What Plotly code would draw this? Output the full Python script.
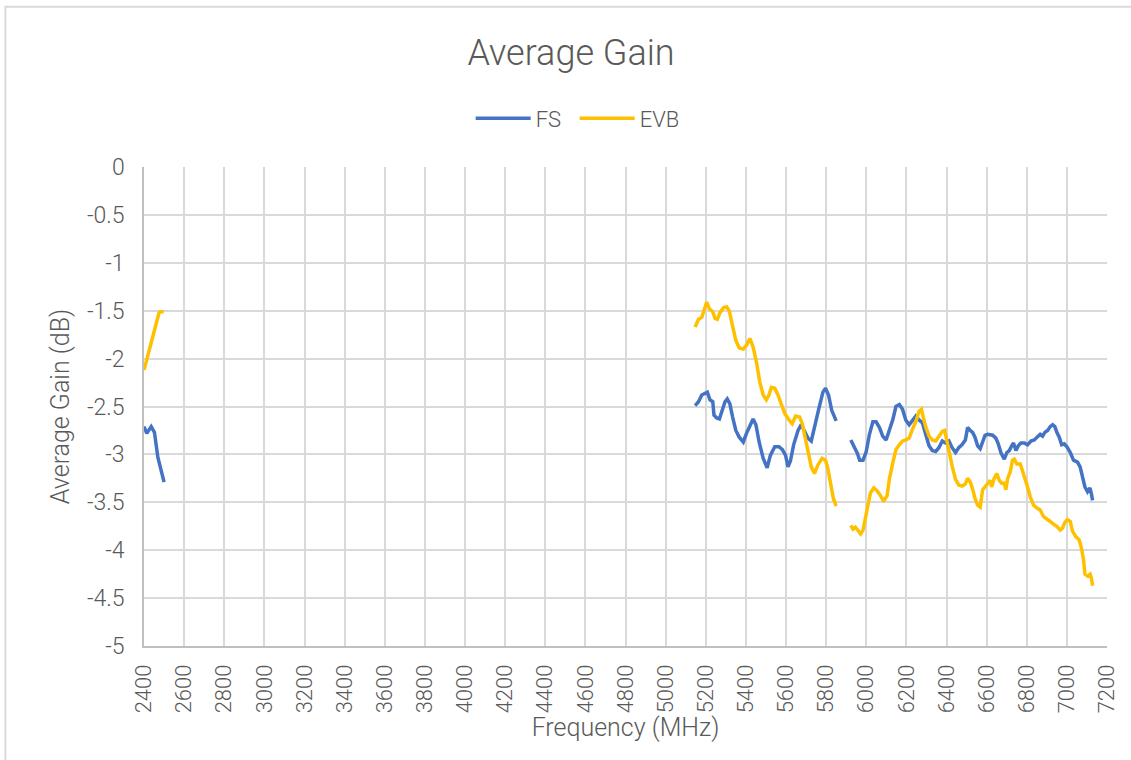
import plotly.graph_objects as go

# ---- Data ----
fs_f1 = [2400, 2414, 2436, 2452, 2469, 2494, 2500]
fs_g1 = [-2.71, -2.78, -2.71, -2.77, -3.03, -3.27, -3.29]
evb_f1 = [2400, 2419, 2444, 2474, 2480, 2498]
evb_g1 = [-2.12, -1.98, -1.77, -1.53, -1.51, -1.51]

fs_f2 = [5147, 5164, 5180, 5197, 5208, 5221, 5235, 5241, 5255, 5268, 5284, 5296, 5307, 5320,
         5334, 5350, 5367, 5387, 5403, 5420, 5436, 5450, 5466, 5486, 5506, 5522, 5544, 5565,
         5582, 5598, 5610, 5622, 5638, 5660, 5676, 5693, 5709, 5726, 5742, 5764, 5784, 5797,
         5812, 5828, 5850]
fs_g2 = [-2.49, -2.45, -2.38, -2.36, -2.35, -2.43, -2.45, -2.59, -2.62, -2.63, -2.53, -2.45,
         -2.42, -2.47, -2.61, -2.75, -2.82, -2.87, -2.78, -2.69, -2.63, -2.69, -2.87, -3.04,
         -3.14, -3.01, -2.92, -2.92, -2.95, -3.01, -3.13, -3.07, -2.90, -2.75, -2.69, -2.76,
         -2.83, -2.86, -2.73, -2.52, -2.35, -2.31, -2.38, -2.54, -2.65]
evb_f2 = [5147, 5164, 5180, 5192, 5205, 5218, 5235, 5246, 5258, 5271, 5288, 5304, 5317, 5334,
          5350, 5367, 5387, 5403, 5420, 5436, 5453, 5469, 5486, 5502, 5515, 5527, 5544, 5560,
          5577, 5593, 5615, 5631, 5648, 5668, 5681, 5693, 5709, 5726, 5742, 5759, 5780, 5797,
          5808, 5822, 5836, 5850]
evb_g2 = [-1.67, -1.59, -1.57, -1.48, -1.41, -1.48, -1.51, -1.58, -1.59, -1.52, -1.47, -1.46,
          -1.50, -1.66, -1.81, -1.89, -1.90, -1.86, -1.79, -1.88, -2.04, -2.24, -2.38, -2.43,
          -2.38, -2.30, -2.31, -2.38, -2.49, -2.57, -2.64, -2.68, -2.60, -2.61, -2.68, -2.80,
          -2.99, -3.13, -3.20, -3.11, -3.04, -3.06, -3.14, -3.30, -3.46, -3.54]

fs_f3 = [5923, 5939, 5956, 5967, 5984, 6000, 6016, 6033, 6049, 6066, 6082, 6099, 6115, 6132,
         6148, 6165, 6181, 6197, 6214, 6230, 6247, 6263, 6280, 6296, 6313, 6329, 6346, 6362,
         6379, 6395, 6412, 6428, 6445, 6461, 6477, 6494, 6505, 6519, 6530, 6542, 6555, 6568,
         6580, 6592, 6605, 6618, 6630, 6646, 6658, 6671, 6688, 6701, 6713, 6725, 6734, 6746,
         6758, 6771, 6788, 6804, 6821, 6837, 6854, 6867, 6879, 6890, 6904, 6917, 6929, 6940,
         6950, 6962, 6974, 6987, 7000, 7017, 7033, 7053, 7066, 7078, 7090, 7103, 7115, 7123, 7128]
fs_g3 = [-2.85, -2.92, -2.99, -3.06, -3.06, -2.97, -2.79, -2.66, -2.66, -2.72, -2.81, -2.85,
         -2.76, -2.64, -2.50, -2.48, -2.53, -2.64, -2.69, -2.65, -2.60, -2.64, -2.67, -2.79,
         -2.91, -2.96, -2.97, -2.93, -2.86, -2.88, -2.86, -2.93, -2.98, -2.93, -2.90, -2.85,
         -2.72, -2.75, -2.77, -2.82, -2.91, -2.94, -2.86, -2.80, -2.79, -2.80, -2.80, -2.83,
         -2.89, -2.98, -3.05, -2.98, -2.96, -2.91, -2.88, -2.96, -2.91, -2.88, -2.88, -2.90,
         -2.86, -2.85, -2.82, -2.79, -2.81, -2.77, -2.75, -2.71, -2.69, -2.71, -2.77, -2.82,
         -2.90, -2.89, -2.92, -2.98, -3.06, -3.08, -3.13, -3.23, -3.34, -3.39, -3.35, -3.42, -3.48]
evb_f3 = [5923, 5934, 5946, 5959, 5972, 5984, 5995, 6008, 6021, 6038, 6054, 6071, 6087, 6104,
          6115, 6132, 6148, 6165, 6181, 6197, 6214, 6230, 6247, 6263, 6275, 6285, 6296, 6313,
          6329, 6346, 6362, 6379, 6391, 6400, 6412, 6428, 6445, 6461, 6477, 6494, 6505, 6519,
          6530, 6542, 6555, 6568, 6580, 6592, 6605, 6618, 6625, 6638, 6651, 6663, 6675, 6688,
          6696, 6705, 6718, 6729, 6738, 6751, 6768, 6784, 6801, 6817, 6834, 6851, 6867, 6884,
          6900, 6917, 6934, 6950, 6967, 6978, 6990, 7003, 7017, 7028, 7045, 7061, 7073, 7083,
          7090, 7103, 7116, 7123, 7128]
evb_g3 = [-3.74, -3.78, -3.76, -3.80, -3.83, -3.79, -3.67, -3.53, -3.40, -3.35, -3.38, -3.43,
          -3.49, -3.43, -3.26, -3.09, -2.95, -2.90, -2.86, -2.85, -2.83, -2.74, -2.66, -2.55,
          -2.53, -2.62, -2.71, -2.81, -2.85, -2.86, -2.81, -2.76, -2.75, -2.85, -2.95, -3.12,
          -3.26, -3.32, -3.33, -3.31, -3.25, -3.29, -3.36, -3.46, -3.53, -3.55, -3.37, -3.34,
          -3.30, -3.27, -3.34, -3.25, -3.20, -3.27, -3.30, -3.30, -3.37, -3.25, -3.18, -3.06,
          -3.05, -3.10, -3.10, -3.20, -3.32, -3.44, -3.53, -3.56, -3.58, -3.65, -3.67, -3.70,
          -3.73, -3.75, -3.79, -3.77, -3.71, -3.68, -3.70, -3.80, -3.86, -3.89, -3.98, -4.10,
          -4.25, -4.27, -4.25, -4.30, -4.37]

x_ticks = list(range(2400, 7201, 200))
y_ticks = [0, -0.5, -1, -1.5, -2, -2.5, -3, -3.5, -4, -4.5, -5]
y_ticktext = ["0", "-0.5", "-1", "-1.5", "-2", "-2.5", "-3", "-3.5", "-4", "-4.5", "-5"]


def join(*segs):
    out = []
    for i, s in enumerate(segs):
        if i:
            out.append(None)
        out.extend(s)
    return out


FONT = "Roboto"
W = 300
GREY = "#595959"

# plot area in page pixels: x 144..1110, y 166.5..646
L, R, T, B = 144, 1110, 166.5, 646
PW, PH = R - L, B - T

fig = go.Figure()
fig.add_trace(go.Scatter(x=join(fs_f1, fs_f2, fs_f3), y=join(fs_g1, fs_g2, fs_g3),
                         mode="lines", name="FS", connectgaps=False,
                         line=dict(color="#4472C4", width=3.5)))
fig.add_trace(go.Scatter(x=join(evb_f1, evb_f2, evb_f3), y=join(evb_g1, evb_g2, evb_g3),
                         mode="lines", name="EVB", connectgaps=False,
                         line=dict(color="#FFC000", width=3.5)))

fig.update_layout(
    width=1131, height=760,
    paper_bgcolor="white", plot_bgcolor="white",
    margin=dict(l=L, r=1131 - R, t=T, b=760 - B),
    font=dict(family=FONT, color=GREY, size=22, weight=W),
    title=dict(text="Average Gain", x=571 / 1131, xanchor="center",
               y=1 - 52 / 760, yanchor="middle",
               font=dict(size=36, color=GREY, family=FONT, weight=W)),
    legend=dict(orientation="h", x=(576 - L) / PW, xanchor="center",
                y=(B - 118) / PH, yanchor="middle",
                font=dict(size=22, color=GREY, family=FONT, weight=W), itemwidth=55,
                entrywidth=34, entrywidthmode="pixels", tracegroupgap=0),
    showlegend=True,
    xaxis=dict(range=[2400, 7200], tickvals=x_ticks, ticktext=[str(v) for v in x_ticks],
               tickangle=-90, showgrid=True, gridcolor="#D9D9D9", gridwidth=1.5,
               showline=True, linecolor="#BFBFBF", linewidth=1.5, zeroline=False,
               ticks="", ticklabelstandoff=8,
               tickfont=dict(size=22, color=GREY, family=FONT, weight=W),
               title=dict(text="Frequency (MHz)", standoff=6,
                          font=dict(size=25, color=GREY, family=FONT, weight=W))),
    yaxis=dict(range=[-5, 0], tickvals=y_ticks, ticktext=y_ticktext,
               showgrid=True, gridcolor="#D9D9D9", gridwidth=1.5,
               showline=True, linecolor="#BFBFBF", linewidth=1.5, zeroline=False,
               ticks="", ticklabelstandoff=13,
               tickfont=dict(size=23, color=GREY, family=FONT, weight=W),
               title=dict(text="Average Gain (dB)", standoff=10,
                          font=dict(size=25, color=GREY, family=FONT, weight=W))),
)

# chart-area border (only top/left edges visible in the frame)
fig.add_shape(type="rect", xref="paper", yref="paper",
              x0=(5 - L) / PW, x1=(1200 - L) / PW,
              y0=(B - 900) / PH, y1=(B - 6) / PH,
              line=dict(color="#D9D9D9", width=2), layer="below")

fig.write_html("out.html", config={"displayModeBar": False},
               post_script="document.body.style.margin='0';")
